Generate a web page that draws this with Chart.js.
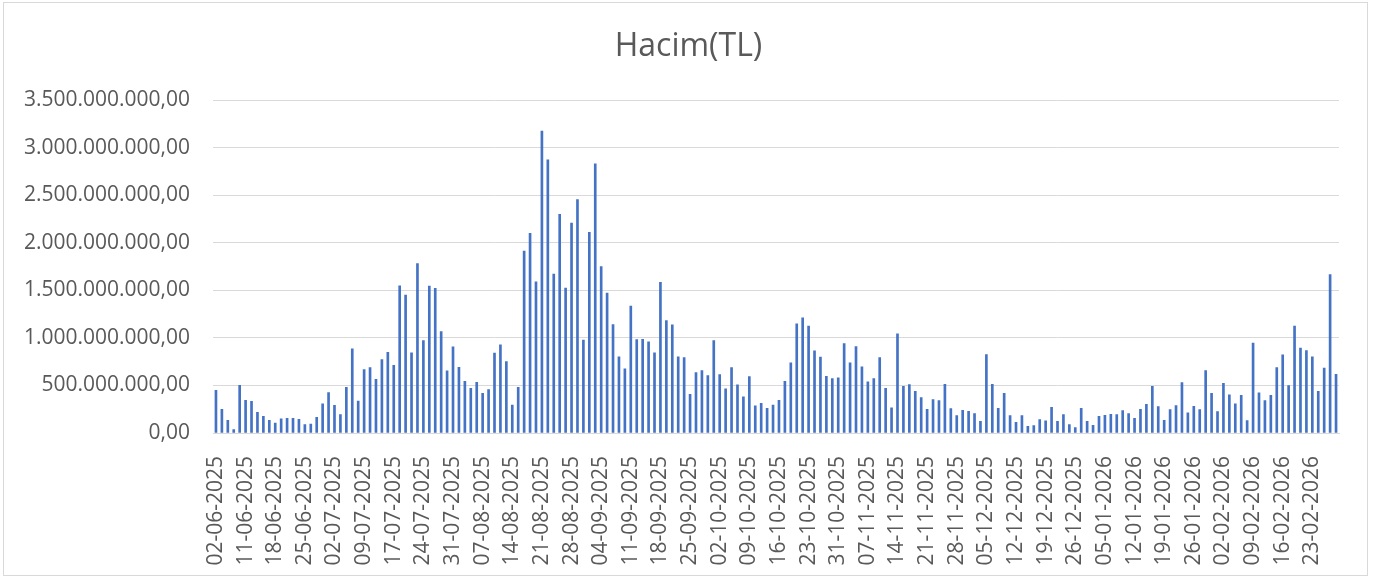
<!DOCTYPE html>
<html lang="tr">
<head>
<meta charset="utf-8">
<title>Hacim(TL)</title>
<script src="https://cdn.jsdelivr.net/npm/chart.js@4.4.1/dist/chart.umd.min.js"></script>
<style>
    html, body { margin: 0; padding: 0; background: #ffffff; }
    #wrap { position: relative; width: 1377px; height: 581px; }
    #frame {
        position: absolute; left: 3px; top: 2px; width: 1363px; height: 572px;
        border: 1px solid #d9d9d9; pointer-events: none;
    }
</style>
</head>
<body>
<div id="wrap">
    <canvas id="chart" width="1377" height="581"></canvas>
    <div id="frame"></div>
</div>
<script>
'use strict';

// daily volume in million TL, one array per month (business days only)
const volJun2025 = [450, 250, 134, 35, 502, 344, 334, 218, 176, 134, 105, 148, 155, 155, 144, 88, 95, 165, 306];
const volJul2025 = [425, 292, 193, 481, 886, 337, 668, 689, 566, 773, 850, 713, 1550, 1451, 843, 1782, 973, 1546, 1522, 1068, 654, 907];
const volAug2025 = [692, 545, 471, 534, 418, 457, 840, 928, 752, 295, 481, 1915, 2101, 1592, 3177, 2874, 1673, 2302, 1525, 2210, 2456];
const volSep2025 = [977, 2112, 2832, 1750, 1472, 1142, 801, 675, 1335, 984, 987, 959, 843, 1585, 1184, 1139, 801, 794, 408, 636, 657, 604];
const volOct2025 = [973, 615, 464, 689, 506, 380, 594, 285, 313, 260, 295, 344, 545, 738, 1149, 1212, 1124, 864, 798, 597, 573, 580];
const volNov2025 = [942, 738, 910, 696, 538, 573, 794, 471, 264, 1044, 492, 510, 439, 372, 250, 351, 341, 513, 257, 183];
const volDec2025 = [239, 228, 204, 123, 826, 513, 260, 418, 183, 112, 183, 70, 77, 141, 127, 271, 123, 193, 88, 56, 260, 123, 81];
const volJan2026 = [176, 186, 197, 193, 235, 204, 155, 250, 302, 492, 278, 134, 246, 288, 531, 211, 281, 246, 657, 418, 225];
const volFeb2026 = [524, 401, 306, 397, 130, 945, 422, 341, 397, 689, 822, 499, 1124, 893, 868, 801, 439, 682, 1666, 618];

// trading calendar
const firstDay = '2025-06-02';
const holidays = ['2025-06-06', '2025-06-09', '2025-07-15', '2025-10-29', '2026-01-01'];
const labelEvery = 5;

const yMax = 3500000000;
const yStep = 500000000;

const volumes = [].concat(volJun2025, volJul2025, volAug2025, volSep2025, volOct2025,
    volNov2025, volDec2025, volJan2026, volFeb2026).map(v => v * 1e6);

function tradingDays(start, count) {
    const out = [];
    const d = new Date(start + 'T00:00:00Z');
    while (out.length < count) {
        const iso = d.toISOString().slice(0, 10);
        const wd = d.getUTCDay();
        if (wd !== 0 && wd !== 6 && !holidays.includes(iso)) {
            const [y, m, dd] = iso.split('-');
            out.push(`${dd}-${m}-${y}`);
        }
        d.setUTCDate(d.getUTCDate() + 1);
    }
    return out;
}

function formatTL(value) {
    const whole = Math.round(value).toString().replace(/\B(?=(\d{3})+(?!\d))/g, '.');
    return whole + ',00';
}

const days = tradingDays(firstDay, volumes.length);

const FONT = '"Open Sans", Calibri, Carlito, sans-serif';
const TEXT = '#595959';
const GRID = '#d9d9d9';

new Chart(document.getElementById('chart'), {
    type: 'bar',
    data: {
        labels: days,
        datasets: [{
            label: 'Hacim(TL)',
            data: volumes,
            backgroundColor: '#4472C4',
            borderWidth: 0,
            barThickness: 2,
        }]
    },
    options: {
        responsive: false,
        animation: false,
        layout: { padding: 0 },
        plugins: {
            legend: { display: false },
            tooltip: { enabled: false },
            title: {
                display: true,
                text: 'Hacim(TL)',
                color: TEXT,
                font: { family: FONT, size: 32, weight: 'normal', lineHeight: 1.2 },
                padding: { top: 28, bottom: 34 }
            }
        },
        scales: {
            x: {
                grid: { display: false },
                border: { display: true, color: GRID },
                ticks: {
                    autoSkip: false,
                    minRotation: 90,
                    maxRotation: 90,
                    padding: 15,
                    color: TEXT,
                    font: { family: FONT, size: 21 },
                    callback: (v, i) => (i % labelEvery === 0 ? days[i] : '')
                },
                afterFit: scale => { scale.height = 148; }
            },
            y: {
                min: 0,
                max: yMax,
                grid: { color: GRID, lineWidth: 1, drawTicks: false },
                border: { display: false },
                ticks: {
                    stepSize: yStep,
                    padding: 23,
                    color: TEXT,
                    font: { family: FONT, size: 21 },
                    callback: v => formatTL(v)
                },
                afterFit: scale => { scale.width = 213; }
            },
            // empty right margin so the title stays centred on the whole canvas
            yRight: {
                position: 'right',
                grid: { display: false },
                border: { display: false },
                ticks: { display: false },
                afterFit: scale => { scale.width = 38; }
            }
        }
    }
});
</script>
</body>
</html>
